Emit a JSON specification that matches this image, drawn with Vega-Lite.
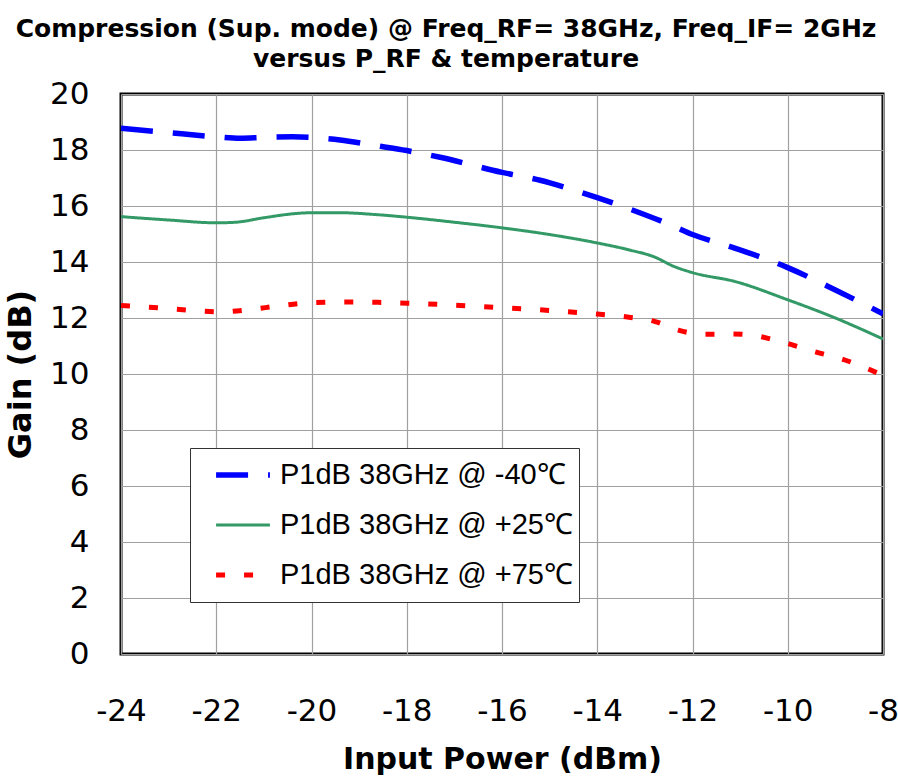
{
  "$schema": "https://vega.github.io/schema/vega-lite/v6.json",
  "autosize": {"type": "none"},
  "width": 762,
  "height": 560,
  "padding": {"left": 121, "top": 94, "right": 15, "bottom": 127},
  "background": "white",
  "title": {
    "text": ["Compression (Sup. mode) @ Freq_RF= 38GHz, Freq_IF= 2GHz", "versus P_RF & temperature"],
    "font": "DejaVu Sans",
    "fontSize": 25,
    "fontWeight": "bold",
    "lineHeight": 30,
    "color": "black",
    "anchor": "middle",
    "dx": -56,
    "offset": 6
  },
  "config": {
    "font": "DejaVu Sans",
    "view": {"stroke": "black", "strokeWidth": 3},
    "axis": {
      "grid": true,
      "gridColor": "#a0a0a0",
      "gridWidth": 1.2,
      "gridOpacity": 1,
      "domain": false,
      "ticks": false,
      "labelFont": "DejaVu Sans",
      "labelFontSize": 31,
      "labelColor": "black",
      "titleFont": "DejaVu Sans",
      "titleFontSize": 30,
      "titleFontWeight": "bold",
      "titleColor": "black"
    }
  },
  "data": {
    "values": [
      {"series": "P1dB 38GHz @ -40℃", "pin": -24, "gain": 18.78},
      {"series": "P1dB 38GHz @ -40℃", "pin": -23, "gain": 18.62},
      {"series": "P1dB 38GHz @ -40℃", "pin": -22, "gain": 18.47},
      {"series": "P1dB 38GHz @ -40℃", "pin": -21.5, "gain": 18.42},
      {"series": "P1dB 38GHz @ -40℃", "pin": -21, "gain": 18.45},
      {"series": "P1dB 38GHz @ -40℃", "pin": -20.4, "gain": 18.47},
      {"series": "P1dB 38GHz @ -40℃", "pin": -20, "gain": 18.45},
      {"series": "P1dB 38GHz @ -40℃", "pin": -19.4, "gain": 18.36},
      {"series": "P1dB 38GHz @ -40℃", "pin": -18.7, "gain": 18.17},
      {"series": "P1dB 38GHz @ -40℃", "pin": -18, "gain": 17.98},
      {"series": "P1dB 38GHz @ -40℃", "pin": -17.3, "gain": 17.74},
      {"series": "P1dB 38GHz @ -40℃", "pin": -16, "gain": 17.2},
      {"series": "P1dB 38GHz @ -40℃", "pin": -15.2, "gain": 16.92},
      {"series": "P1dB 38GHz @ -40℃", "pin": -14.4, "gain": 16.52},
      {"series": "P1dB 38GHz @ -40℃", "pin": -14, "gain": 16.3},
      {"series": "P1dB 38GHz @ -40℃", "pin": -13.3, "gain": 15.88},
      {"series": "P1dB 38GHz @ -40℃", "pin": -12.4, "gain": 15.28},
      {"series": "P1dB 38GHz @ -40℃", "pin": -12, "gain": 14.98},
      {"series": "P1dB 38GHz @ -40℃", "pin": -11.3, "gain": 14.6},
      {"series": "P1dB 38GHz @ -40℃", "pin": -10, "gain": 13.8},
      {"series": "P1dB 38GHz @ -40℃", "pin": -9, "gain": 13.0},
      {"series": "P1dB 38GHz @ -40℃", "pin": -8, "gain": 12.15},
      {"series": "P1dB 38GHz @ +25℃", "pin": -24, "gain": 15.62},
      {"series": "P1dB 38GHz @ +25℃", "pin": -23, "gain": 15.5},
      {"series": "P1dB 38GHz @ +25℃", "pin": -22, "gain": 15.4},
      {"series": "P1dB 38GHz @ +25℃", "pin": -21.6, "gain": 15.42},
      {"series": "P1dB 38GHz @ +25℃", "pin": -21, "gain": 15.58},
      {"series": "P1dB 38GHz @ +25℃", "pin": -20.4, "gain": 15.72},
      {"series": "P1dB 38GHz @ +25℃", "pin": -20, "gain": 15.76},
      {"series": "P1dB 38GHz @ +25℃", "pin": -19.4, "gain": 15.76},
      {"series": "P1dB 38GHz @ +25℃", "pin": -18.7, "gain": 15.7},
      {"series": "P1dB 38GHz @ +25℃", "pin": -18, "gain": 15.6},
      {"series": "P1dB 38GHz @ +25℃", "pin": -17, "gain": 15.42},
      {"series": "P1dB 38GHz @ +25℃", "pin": -16, "gain": 15.22},
      {"series": "P1dB 38GHz @ +25℃", "pin": -15, "gain": 14.98},
      {"series": "P1dB 38GHz @ +25℃", "pin": -14, "gain": 14.68},
      {"series": "P1dB 38GHz @ +25℃", "pin": -13.3, "gain": 14.42},
      {"series": "P1dB 38GHz @ +25℃", "pin": -12.8, "gain": 14.18},
      {"series": "P1dB 38GHz @ +25℃", "pin": -12.4, "gain": 13.85},
      {"series": "P1dB 38GHz @ +25℃", "pin": -12, "gain": 13.62},
      {"series": "P1dB 38GHz @ +25℃", "pin": -11.1, "gain": 13.3},
      {"series": "P1dB 38GHz @ +25℃", "pin": -10, "gain": 12.65},
      {"series": "P1dB 38GHz @ +25℃", "pin": -9, "gain": 12.0},
      {"series": "P1dB 38GHz @ +25℃", "pin": -8, "gain": 11.25},
      {"series": "P1dB 38GHz @ +75℃", "pin": -24, "gain": 12.45},
      {"series": "P1dB 38GHz @ +75℃", "pin": -23.2, "gain": 12.36},
      {"series": "P1dB 38GHz @ +75℃", "pin": -22.5, "gain": 12.27},
      {"series": "P1dB 38GHz @ +75℃", "pin": -21.9, "gain": 12.22},
      {"series": "P1dB 38GHz @ +75℃", "pin": -21.3, "gain": 12.3},
      {"series": "P1dB 38GHz @ +75℃", "pin": -20.7, "gain": 12.43},
      {"series": "P1dB 38GHz @ +75℃", "pin": -20, "gain": 12.55},
      {"series": "P1dB 38GHz @ +75℃", "pin": -19.3, "gain": 12.57},
      {"series": "P1dB 38GHz @ +75℃", "pin": -18.6, "gain": 12.56},
      {"series": "P1dB 38GHz @ +75℃", "pin": -18, "gain": 12.53},
      {"series": "P1dB 38GHz @ +75℃", "pin": -17, "gain": 12.46},
      {"series": "P1dB 38GHz @ +75℃", "pin": -16, "gain": 12.37},
      {"series": "P1dB 38GHz @ +75℃", "pin": -15, "gain": 12.27},
      {"series": "P1dB 38GHz @ +75℃", "pin": -14, "gain": 12.14},
      {"series": "P1dB 38GHz @ +75℃", "pin": -13.3, "gain": 12.02},
      {"series": "P1dB 38GHz @ +75℃", "pin": -12.8, "gain": 11.88},
      {"series": "P1dB 38GHz @ +75℃", "pin": -12.3, "gain": 11.57},
      {"series": "P1dB 38GHz @ +75℃", "pin": -11.8, "gain": 11.42},
      {"series": "P1dB 38GHz @ +75℃", "pin": -11.2, "gain": 11.43},
      {"series": "P1dB 38GHz @ +75℃", "pin": -10.8, "gain": 11.4},
      {"series": "P1dB 38GHz @ +75℃", "pin": -10.2, "gain": 11.18},
      {"series": "P1dB 38GHz @ +75℃", "pin": -9.4, "gain": 10.78},
      {"series": "P1dB 38GHz @ +75℃", "pin": -8.8, "gain": 10.5},
      {"series": "P1dB 38GHz @ +75℃", "pin": -8, "gain": 9.95}
    ]
  },
  "mark": {"type": "line", "interpolate": "monotone", "clip": true},
  "encoding": {
    "x": {
      "field": "pin",
      "type": "quantitative",
      "title": "Input Power (dBm)",
      "scale": {"domain": [-24, -8], "nice": false, "zero": false},
      "axis": {"values": [-24, -22, -20, -18, -16, -14, -12, -10, -8], "labelExpr": "'' + datum.value", "labelPadding": 42, "titlePadding": 18, "labelFlush": false}
    },
    "y": {
      "field": "gain",
      "type": "quantitative",
      "title": "Gain (dB)",
      "scale": {"domain": [0, 20], "nice": false},
      "axis": {"values": [0, 2, 4, 6, 8, 10, 12, 14, 16, 18, 20], "labelPadding": 32, "titlePadding": 12, "titleFontSize": 32}
    },
    "color": {
      "field": "series",
      "type": "nominal",
      "scale": {
        "domain": ["P1dB 38GHz @ -40℃", "P1dB 38GHz @ +25℃", "P1dB 38GHz @ +75℃"],
        "range": ["#0000FF", "#339966", "#FF0000"]
      },
      "legend": {
        "title": null,
        "orient": "none",
        "legendX": 69,
        "legendY": 354,
        "strokeColor": "#333333",
        "fillColor": "white",
        "padding": 5,
        "symbolOffset": 18,
        "symbolType": "stroke",
        "symbolSize": 2900,
        "symbolStrokeWidth": 5,
        "clipHeight": 44,
        "labelFontSize": 29,
        "labelFont": "Liberation Sans",
        "labelColor": "black",
        "labelOffset": 7,
        "labelLimit": 400,
        "rowPadding": 6
      }
    },
    "strokeDash": {
      "field": "series",
      "type": "nominal",
      "scale": {
        "domain": ["P1dB 38GHz @ -40℃", "P1dB 38GHz @ +25℃", "P1dB 38GHz @ +75℃"],
        "range": [[32, 20], [1, 0], [9, 19]]
      }
    },
    "strokeWidth": {
      "field": "series",
      "type": "nominal",
      "scale": {
        "type": "ordinal",
        "domain": ["P1dB 38GHz @ -40℃", "P1dB 38GHz @ +25℃", "P1dB 38GHz @ +75℃"],
        "range": [5.5, 3, 5]
      },
      "legend": null
    }
  }
}
